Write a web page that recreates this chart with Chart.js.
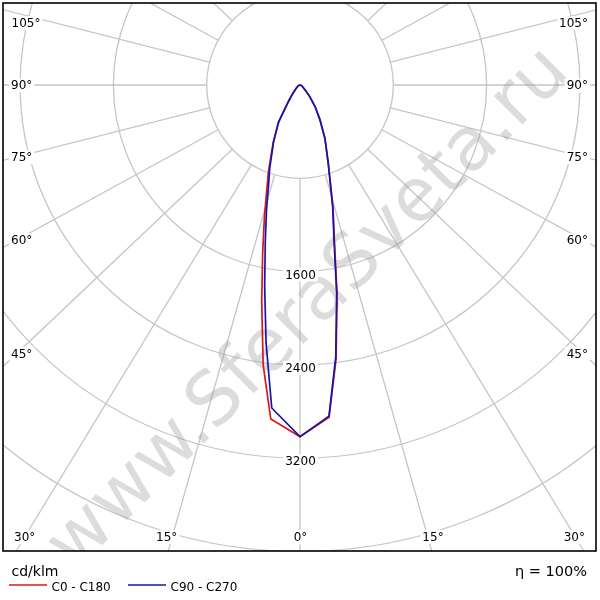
<!DOCTYPE html>
<html>
<head>
<meta charset="utf-8">
<script src="https://cdn.jsdelivr.net/npm/chart.js@4.4.1/dist/chart.umd.min.js"></script>
<style>
html,body{margin:0;padding:0;background:#ffffff;}
canvas{display:block;}
</style>
</head>
<body>
<canvas id="c" width="600" height="600"></canvas>
<script>
// ---- data (cd/klm) ----
const angleDeg = [0, 5, 7.5, 10, 12.5, 15, 17.5, 20, 25, 30, 35, 40, 45, 50, 60, 70, 80, 90];
const c180 = [3015, 2875, 2420, 1890, 1480, 1180, 950, 790, 545, 370, 175, 100, 60, 40, 20, 10, 5, 0];
const c0   = [3015, 2860, 2370, 1830, 1360, 1095, 860, 705, 505, 340, 225, 130, 65, 40, 20, 10, 5, 0];
const c270 = [3015, 2780, 2230, 1745, 1375, 1110, 895, 760, 535, 365, 170, 100, 60, 40, 20, 10, 5, 0];
const c90  = [3015, 2850, 2350, 1812, 1344, 1083, 854, 706, 506, 340, 225, 130, 65, 40, 20, 10, 5, 0];
const ringValues = [800, 1600, 2400, 3200, 4000, 4800, 5600];
const ringLabelValues = [1600, 2400, 3200];
const spokeStep = 15;
const seriesNames = ['C0 - C180', 'C90 - C270'];
const unitLabel = 'cd/klm';
const efficiencyLabel = 'η = 100%';

function plane(left, right) {
  const pts = [];
  for (let i = angleDeg.length - 1; i >= 0; i--) {
    const t = angleDeg[i] * Math.PI / 180;
    pts.push({x: -left[i] * Math.sin(t), y: -left[i] * Math.cos(t)});
  }
  for (let i = 1; i < angleDeg.length; i++) {
    const t = angleDeg[i] * Math.PI / 180;
    pts.push({x: right[i] * Math.sin(t), y: -right[i] * Math.cos(t)});
  }
  return pts;
}

const FONT = '"DejaVu Sans", Verdana, sans-serif';
const GRID = '#c6c6c6';
const RED = '#e01414';
const BLUE = '#1414b0';
const SPOKE_ASPECT = 1.055;

function labelBox(ctx, text, x, y, align) {
  const w = ctx.measureText(text).width;
  let l = x;
  if (align === 'center') l = x - w / 2;
  if (align === 'right') l = x - w;
  ctx.fillStyle = '#ffffff';
  ctx.fillRect(l - 2, y - 11, w + 4, 14);
  ctx.fillStyle = '#000000';
  ctx.textAlign = 'left';
  ctx.fillText(text, l, y);
}

const angleLabelLayout = [
  ['105°', 11.5, 27.1, 'left'], ['90°', 11, 89.4, 'left'], ['75°', 11, 161.1, 'left'],
  ['60°', 11, 244.4, 'left'], ['45°', 11, 357.7, 'left'], ['30°', 14, 541.1, 'left'],
  ['15°', 166.7, 541.1, 'center'], ['0°', 300.5, 541.1, 'center'], ['15°', 433, 541.1, 'center'],
  ['30°', 585, 541.1, 'right'], ['45°', 588, 357.7, 'right'], ['60°', 588, 244.4, 'right'],
  ['75°', 588, 161.1, 'right'], ['90°', 588, 89.4, 'right'], ['105°', 588, 27.1, 'right']
];

const polarGrid = {
  id: 'polarGrid',
  beforeDatasetsDraw(chart) {
    const {ctx, chartArea: a, scales: {x, y}} = chart;
    const cx = x.getPixelForValue(0), cy = y.getPixelForValue(0);
    const rp = v => x.getPixelForValue(v) - cx;
    ctx.save();
    ctx.beginPath();
    ctx.rect(a.left, a.top, a.right - a.left, a.bottom - a.top);
    ctx.clip();
    ctx.strokeStyle = GRID;
    ctx.lineWidth = 1.3;
    ringValues.forEach(v => {
      ctx.beginPath();
      ctx.arc(cx, cy, rp(v), 0, Math.PI * 2);
      ctx.stroke();
    });
    const r0 = rp(ringValues[0]);
    for (let d = 0; d < 360; d += spokeStep) {
      const t = d * Math.PI / 180;
      let dx = Math.sin(t) * SPOKE_ASPECT, dy = Math.cos(t);
      const n = Math.hypot(dx, dy); dx /= n; dy /= n;
      ctx.beginPath();
      ctx.moveTo(cx + dx * r0, cy + dy * r0);
      ctx.lineTo(cx + dx * 1000, cy + dy * 1000);
      ctx.stroke();
    }
    // watermark
    ctx.save();
    ctx.translate(310, 310);
    ctx.rotate(-Math.PI / 4);
    ctx.font = '74px ' + FONT;
    ctx.fillStyle = 'rgba(150,150,150,0.33)';
    ctx.textAlign = 'center';
    ctx.textBaseline = 'middle';
    ctx.fillText('www.SferaSveta.ru', 0, 0);
    ctx.restore();
    // ring value labels
    ctx.font = '12px ' + FONT;
    ctx.textBaseline = 'alphabetic';
    ringLabelValues.forEach(v => {
      labelBox(ctx, String(v), cx + 0.5, cy + rp(v) + 7, 'center');
    });
    // angle labels
    angleLabelLayout.forEach(l => labelBox(ctx, l[0], l[1], l[2], l[3]));
    ctx.restore();
  },
  afterDraw(chart) {
    const {ctx, chartArea: a} = chart;
    ctx.save();
    ctx.strokeStyle = '#000000';
    ctx.lineWidth = 1.6;
    ctx.strokeRect(a.left, a.top, a.right - a.left, a.bottom - a.top);
    ctx.fillStyle = '#000000';
    ctx.textBaseline = 'alphabetic';
    ctx.font = '14px ' + FONT;
    ctx.textAlign = 'left';
    ctx.fillText(unitLabel, 11.5, 575.5);
    ctx.textAlign = 'right';
    ctx.font = '14.5px ' + FONT;
    ctx.fillText(efficiencyLabel, 587, 575.5);
    ctx.lineWidth = 1.5;
    ctx.strokeStyle = RED;
    ctx.beginPath(); ctx.moveTo(9, 585); ctx.lineTo(47, 585); ctx.stroke();
    ctx.strokeStyle = BLUE;
    ctx.beginPath(); ctx.moveTo(128, 585); ctx.lineTo(166, 585); ctx.stroke();
    ctx.font = '12px ' + FONT;
    ctx.textAlign = 'left';
    ctx.fillText(seriesNames[0], 51.5, 591);
    ctx.fillText(seriesNames[1], 170.5, 591);
    ctx.restore();
  }
};

const PXPERCD = 93.3 / 800;
new Chart(document.getElementById('c'), {
  type: 'scatter',
  data: {
    datasets: [
      {label: seriesNames[0], data: plane(c180, c0), showLine: true, borderColor: RED,
       borderWidth: 1.7, pointRadius: 0, tension: 0, order: 2},
      {label: seriesNames[1], data: plane(c270, c90), showLine: true, borderColor: BLUE,
       borderWidth: 1.7, pointRadius: 0, tension: 0, order: 1}
    ]
  },
  options: {
    responsive: false,
    animation: false,
    devicePixelRatio: 1,
    events: [],
    layout: {padding: {left: 3, top: 3, right: 4, bottom: 49}},
    plugins: {legend: {display: false}, tooltip: {enabled: false}, title: {display: false}},
    scales: {
      x: {type: 'linear', display: false, min: -(300 - 3) / PXPERCD, max: (596 - 300) / PXPERCD},
      y: {type: 'linear', display: false, min: -(551 - 85) / PXPERCD, max: (85 - 3) / PXPERCD}
    }
  },
  plugins: [polarGrid]
});
</script>
</body>
</html>
